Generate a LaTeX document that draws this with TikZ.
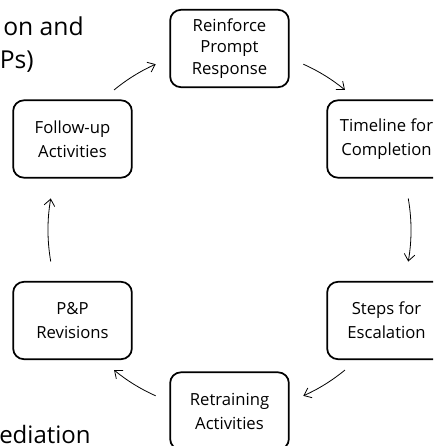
\documentclass[tikz,border=0pt]{standalone}
\usepackage{fontspec}
\setmainfont{Open Sans}
\usetikzlibrary{arrows.meta}

\begin{document}
\begin{tikzpicture}[x=0.75pt, y=0.75pt,
    stepbox/.style={draw, line width=1.3pt, rounded corners=8pt,
      minimum width=89pt, minimum height=58pt, align=center,
      font=\fontsize{12.5pt}{18pt}\selectfont},
    cyclearrow/.style={-{Straight Barb[length=5pt,width=8pt]},
      line width=0.6pt},
    backtext/.style={inner sep=0pt, font=\fontsize{18.5pt}{24pt}\selectfont} ]

    \useasboundingbox (0,0) rectangle (433,-446);
    \clip (0,0) rectangle (433,-446);

    % Text behind the cycle, cut by the frame
    \node[backtext, anchor=base east] (ta) at (84,-35) {on and};
    \node[backtext, anchor=base east] (tb) at (34,-68) {Ps)};
    \node[backtext, font=\fontsize{18pt}{24pt}\selectfont, anchor=base west]
    (tc) at (-1,-443) {ediation};

    % Centre of the cycle
    \coordinate (cyc) at (229.5,-230);

    % Steps of the cycle
    \node[stepbox, font=\fontsize{12.5pt}{16pt}\selectfont] (rpr) at (229.5,-48.5)
    {Reinforce\\Prompt\\Response};
    \node[stepbox] (tfc) at (386.5,-139) {Timeline for\\Completion};
    \node[stepbox] (sfe) at (386.5,-320.5) {Steps for\\Escalation};
    \node[stepbox] (rta) at (229.5,-411) {Retraining\\Activities};
    \node[stepbox] (ppr) at (72.5,-320.5) {P\&P\\Revisions};
    \node[stepbox] (fua) at (72.5,-139) {Follow-up\\Activities};

    % Arrows round the cycle
    \draw[cyclearrow] (cyc) ++(66:181.5) arc (66:50.5:181.5);
    \draw[cyclearrow] (cyc) ++(10:181.5) arc (10:-10:181.5);
    \draw[cyclearrow] (cyc) ++(-50.5:181.5) arc (-50.5:-66:181.5);
    \draw[cyclearrow] (cyc) ++(-114:181.5) arc (-114:-129.5:181.5);
    \draw[cyclearrow] (cyc) ++(190:181.5) arc (190:170:181.5);
    \draw[cyclearrow] (cyc) ++(129.5:181.5) arc (129.5:114:181.5);

\end{tikzpicture}
\end{document}
